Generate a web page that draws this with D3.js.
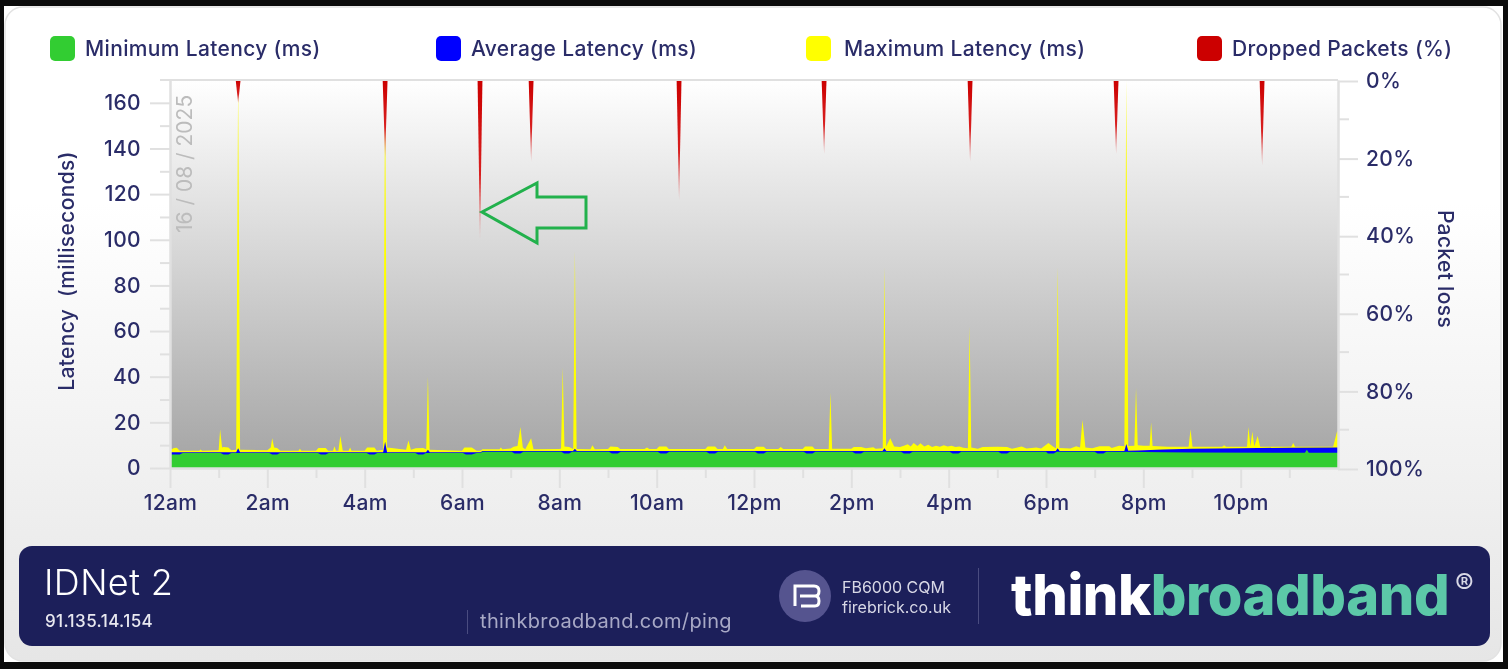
<!DOCTYPE html>
<html>
<head>
<meta charset="utf-8">
<script src="https://cdn.jsdelivr.net/npm/d3@7"></script>
<style>
  html, body { margin: 0; padding: 0; background: #0b0b0b; overflow: hidden; }
  svg { display: block; filter: blur(0.75px); font-family: Inter, "Noto Sans", sans-serif; }
</style>
</head>
<body>
<svg id="chart"></svg>
<script>
const width = 1508;
const height = 669;

// legend + axis text
const legendLabels = ['Minimum Latency (ms)', 'Average Latency (ms)', 'Maximum Latency (ms)', 'Dropped Packets (%)'];
const legendColors = ['#32cd32', '#0000ff', '#ffff00', '#cc0000'];
const hourTicks = [0, 2, 4, 6, 8, 10, 12, 14, 16, 18, 20, 22];
const hourMinorTicks = [1, 3, 5, 7, 9, 11, 13, 15, 17, 19, 21, 23];
const hourLabels = ['12am', '2am', '4am', '6am', '8am', '10am', '12pm', '2pm', '4pm', '6pm', '8pm', '10pm'];
const latencyTicks = [0, 20, 40, 60, 80, 100, 120, 140, 160];
const latencyMinorTicks = [10, 30, 50, 70, 90, 110, 130, 150];
const lossTicks = [0, 20, 40, 60, 80, 100];
const lossMinorTicks = [10, 30, 50, 70, 90];

// minimum latency
const minHours = [
  0, 0.2, 0.26, 1.04, 1.1, 1.2, 1.26, 2.04, 2.1, 2.2, 2.26, 3.04, 3.1, 3.2, 3.26,
  4.04, 4.1, 4.2, 4.26, 5.04, 5.1, 5.2, 5.26, 6.02, 6.08, 6.2, 6.3, 6.38, 6.42,
  7.02, 7.08, 7.2, 7.26, 8.04, 8.1, 8.2, 8.26, 9.02, 9.08, 9.2, 9.26, 10.02, 10.08, 10.2, 10.26,
  11.02, 11.08, 11.2, 11.26, 12.02, 12.08, 12.2, 12.26, 13.02, 13.08, 13.2, 13.26,
  14.02, 14.08, 14.2, 14.26, 15.02, 15.08, 15.2, 15.26, 16.02, 16.08, 16.2, 16.26,
  17.02, 17.08, 17.2, 17.26, 18, 18.04, 18.16, 18.22, 19, 19.06, 19.18, 19.24, 20, 20.4, 21,
  23.32, 23.36, 23.4, 24
];
const minValues = [
  5.9, 5.9, 6.6, 6.6, 5.9, 5.9, 6.6, 6.6, 5.9, 5.9, 6.6, 6.6, 5.9, 5.9, 6.6,
  6.6, 5.9, 5.9, 6.6, 6.6, 5.9, 5.9, 6.6, 6.6, 5.9, 5.9, 6.6, 6.6, 7.1,
  7.1, 6.4, 6.4, 7.1, 7.1, 6.4, 6.4, 7.1, 7.1, 6.4, 6.4, 7.1, 7.1, 6.4, 6.4, 7.1,
  7.1, 6.4, 6.4, 7.1, 7.1, 6.4, 6.4, 7.1, 7.1, 6.4, 6.4, 7.1,
  7.1, 6.4, 6.4, 7.1, 7.1, 6.4, 6.4, 7.1, 7.1, 6.4, 6.4, 7.1,
  7.1, 6.4, 6.4, 7.1, 7.1, 6.4, 6.4, 7.1, 7.1, 6.4, 6.4, 7.1, 7, 6.9, 6.8,
  6.7, 8, 6.7, 6.7
];

// average latency
const avgHours = [
  0, 1.36, 1.4, 1.44, 4.38, 4.42, 4.46, 5.26, 5.3, 5.34, 6.38, 6.42, 8.28, 8.32, 8.36,
  14.64, 14.68, 14.72, 18.2, 18.24, 18.28, 19.61, 19.65, 19.69, 19.9, 20.4, 21, 22, 23, 24
];
const avgValues = [
  6.9, 6.9, 8.6, 6.9, 6.9, 11.5, 6.9, 6.9, 8, 6.9, 6.9, 7.5, 7.5, 8.4, 7.5,
  7.5, 8.6, 7.5, 7.5, 8.6, 7.5, 7.5, 10.5, 7.6, 7.7, 8.1, 8.4, 8.7, 8.9, 9
];

// maximum latency
const maxHours = [
  0, 0.04, 0.08, 0.14, 0.2, 0.6, 0.63, 0.66, 1, 1.03, 1.07, 1.1, 1.2, 1.26, 1.36, 1.4, 1.44,
  2, 2.07, 2.1, 2.14, 2.2, 2.27, 2.64, 2.67, 2.7, 3, 3.05, 3.2, 3.25, 3.35, 3.38, 3.41, 3.46, 3.5, 3.55, 3.67, 3.7, 3.73,
  4, 4.05, 4.2, 4.25, 4.38, 4.42, 4.46, 4.85, 4.9, 4.95, 5.05, 5.2, 5.265, 5.3, 5.335,
  6, 6.05, 6.2, 6.3, 6.38, 6.42, 6.77, 6.8, 6.83, 7, 7.06, 7.14, 7.2, 7.25, 7.3, 7.42, 7.47,
  8, 8.035, 8.07, 8.105, 8.2, 8.285, 8.32, 8.355, 8.64, 8.68, 8.73, 9, 9.05, 9.2, 9.25, 9.75, 9.8, 9.85,
  10, 10.05, 10.2, 10.25, 11, 11.05, 11.2, 11.25, 11.36, 11.4, 11.45,
  12, 12.05, 12.2, 12.25, 12.5, 12.55, 12.6, 13, 13.05, 13.2, 13.25, 13.535, 13.57, 13.605,
  14, 14.05, 14.2, 14.3, 14.45, 14.5, 14.645, 14.68, 14.715, 14.8, 14.88,
  15, 15.08, 15.16, 15.22, 15.28, 15.36, 15.42, 15.5, 15.58, 15.66, 15.74, 15.82, 15.9, 15.98, 16.06, 16.14, 16.22, 16.3, 16.395, 16.43, 16.465,
  16.6, 16.7, 17, 17.2, 17.3, 17.5, 17.6, 17.8, 17.9, 18.05, 18.15, 18.205, 18.24, 18.275,
  18.5, 18.62, 18.7, 18.75, 18.81, 18.95, 19.1, 19.3, 19.35, 19.5, 19.61, 19.65, 19.69, 19.815, 19.85, 19.885, 20, 20.13, 20.16, 20.19, 20.5,
  20.93, 20.97, 21.01, 21.62, 21.66, 21.7, 22.13, 22.16, 22.2, 22.24, 22.28, 22.35, 22.4, 23.04, 23.08, 23.12, 23.9, 23.98, 24
];
const maxValues = [
  9.5, 8.2, 8.8, 8.9, 7.6, 7.6, 8.1, 7.6, 7.8, 17, 9, 9.2, 9, 7.8, 8, 170, 8,
  7.8, 9, 13, 9, 8.8, 7.6, 7.6, 8.4, 7.6, 7.6, 8.8, 8.8, 7.6, 7.6, 9.5, 7.6, 7.6, 14, 7.6, 7.6, 9, 7.6,
  7.6, 9, 9, 7.6, 8, 170, 9, 8, 12, 8, 8.6, 8.8, 8.2, 40, 8,
  7.6, 9, 9, 7.6, 7.6, 8.2, 8.2, 9, 8.2, 8.5, 9.3, 9.6, 18, 9, 8.2, 13, 8.2,
  8.3, 8.5, 44, 9.4, 9.2, 8.3, 95, 8.3, 8.2, 10, 8.2, 8.3, 9.4, 9.2, 8.3, 8.3, 9, 8.3,
  8.3, 9.4, 9.4, 8.3, 8.3, 9.4, 9.4, 8.3, 8.3, 10, 8.3,
  8.3, 9.3, 9.3, 8.3, 8.3, 9.2, 8.3, 8.3, 9.4, 9.4, 8.3, 8.3, 33, 8.4,
  8.4, 9.2, 9.2, 8.6, 9.1, 8.4, 8.6, 88, 9.4, 13, 9.4,
  9.2, 9.8, 10.4, 9.4, 11, 9.6, 10.8, 9.4, 10.2, 9.2, 9.8, 9.3, 10, 9.4, 9.8, 9.2, 9.4, 8.9, 8.6, 62, 9,
  8.4, 9.2, 9.3, 9.2, 8.4, 9.4, 8.5, 9, 8.5, 11, 9.3, 8.7, 88, 8.8,
  8.5, 9.5, 9, 21, 9, 8.6, 9.5, 9.5, 8.8, 9.8, 9.5, 170, 9.6, 9.8, 35, 10, 9.8, 9.8, 20, 9.6, 9.3,
  9.3, 17, 9.3, 9.3, 10, 9.3, 9.3, 18, 9.5, 16, 9.5, 14, 9.3, 9.3, 11, 9.3, 9.3, 16, 16
];

// packet loss spikes hang down from the top of the chart
const dropHours = [1.4, 4.42, 6.37, 7.42, 10.46, 13.44, 16.44, 19.44, 22.44];
const dropValues = [6, 20, 41, 21, 31, 19, 21, 19, 22];
const dropSpread = 0.05;

const plot = { left: 170, right: 1338, top: 80, bottom: 468 };

const x = d3.scaleLinear().domain([0, 24]).range([plot.left, plot.right]);
const y = d3.scaleLinear().domain([0, 170]).range([plot.bottom, plot.top]);
const yLoss = d3.scaleLinear().domain([0, 100]).range([plot.top, plot.bottom]);

const navy = '#2a2c68';
const axisGrey = '#e0e0e0';
const textSpacing = '0.35px';

const svg = d3.select('#chart').attr('width', width).attr('height', height);
const defs = svg.append('defs');

const cardGrad = defs.append('linearGradient').attr('id', 'cardGrad').attr('x1', 0).attr('x2', 0).attr('y1', 0).attr('y2', 1);
cardGrad.append('stop').attr('offset', '0%').attr('stop-color', '#ffffff');
cardGrad.append('stop').attr('offset', '30%').attr('stop-color', '#ffffff');
cardGrad.append('stop').attr('offset', '100%').attr('stop-color', '#e6e6e6');

const plotGrad = defs.append('linearGradient').attr('id', 'plotGrad').attr('x1', 0).attr('x2', 0).attr('y1', 0).attr('y2', 1);
plotGrad.append('stop').attr('offset', '0%').attr('stop-color', '#ffffff');
plotGrad.append('stop').attr('offset', '100%').attr('stop-color', '#a4a4a4');

const dropGrad = defs.append('linearGradient').attr('id', 'dropGrad').attr('x1', 0).attr('x2', 0).attr('y1', 0).attr('y2', 1);
dropGrad.append('stop').attr('offset', '0%').attr('stop-color', '#cc0000');
dropGrad.append('stop').attr('offset', '60%').attr('stop-color', '#d82020');
dropGrad.append('stop').attr('offset', '100%').attr('stop-color', '#e6a0a0');

defs.append('clipPath').attr('id', 'plotClip').append('rect')
  .attr('x', plot.left).attr('y', plot.top)
  .attr('width', plot.right - plot.left).attr('height', plot.bottom - plot.top);

// screenshot backing, then the rounded card on it
svg.append('rect').attr('x', 4).attr('y', 6).attr('width', 1499).attr('height', 656).attr('fill', '#ffffff');
svg.append('rect').attr('x', 5).attr('y', 7).attr('width', 1496).attr('height', 654).attr('rx', 18)
  .attr('fill', 'url(#cardGrad)').attr('stroke', '#e2e2e2').attr('stroke-width', 1.5);

// legend
const legendSwatchX = [50, 436, 806, 1197];
const legendTextX = [85, 471, 844, 1232];
const legend = svg.append('g').selectAll('g').data(legendLabels).enter().append('g');
legend.append('rect')
  .attr('x', (d, i) => legendSwatchX[i]).attr('y', 36).attr('width', 25).attr('height', 25).attr('rx', 5)
  .attr('fill', (d, i) => legendColors[i]);
legend.append('text')
  .attr('x', (d, i) => legendTextX[i]).attr('y', 56)
  .attr('font-size', 21).attr('font-weight', 500).attr('letter-spacing', textSpacing).attr('fill', navy)
  .text((d) => d);

// plot background
svg.append('rect')
  .attr('x', plot.left).attr('y', plot.top)
  .attr('width', plot.right - plot.left).attr('height', plot.bottom - plot.top)
  .attr('fill', 'url(#plotGrad)');

function areaFrom(hours, values) {
  const area = d3.area()
    .x((d, i) => x(hours[i]))
    .y0(y(0))
    .y1((d) => y(d));
  return area(values);
}

const marks = svg.append('g').attr('clip-path', 'url(#plotClip)');
marks.append('path').attr('d', areaFrom(maxHours, maxValues)).attr('fill', legendColors[2]);
marks.append('path').attr('d', areaFrom(avgHours, avgValues)).attr('fill', legendColors[1]);
marks.append('path').attr('d', areaFrom(minHours, minValues)).attr('fill', legendColors[0]);

const dropArea = d3.area()
  .x((d) => x(d[0]))
  .y0(yLoss(0))
  .y1((d) => yLoss(d[1]));
marks.selectAll('path.drop').data(dropHours).enter().append('path')
  .attr('class', 'drop')
  .attr('fill', 'url(#dropGrad)')
  .attr('d', (d, i) => dropArea([[d - dropSpread, 0], [d, dropValues[i]], [d + dropSpread, 0]]));

// date stamp inside the plot
svg.append('text')
  .attr('transform', 'translate(192,233) rotate(-90)')
  .attr('font-size', 21).attr('fill', '#bcbcbc')
  .text('16 / 08 / 2025');

function styleAxis(g) {
  g.select('.domain').attr('stroke', axisGrey).attr('stroke-width', 2);
  g.selectAll('.tick line').attr('stroke', axisGrey).attr('stroke-width', 2);
  g.selectAll('.tick text').attr('fill', navy).attr('font-size', 21).attr('font-weight', 500)
    .attr('letter-spacing', textSpacing).attr('font-family', 'Inter, "Noto Sans", sans-serif');
}

// axes, major + minor ticks
svg.append('g').attr('transform', `translate(${plot.left},0)`)
  .call(d3.axisLeft(y).tickValues(latencyTicks).tickSize(20).tickPadding(9).tickSizeOuter(0)).call(styleAxis);
svg.append('g').attr('transform', `translate(${plot.left},0)`)
  .call(d3.axisLeft(y).tickValues(latencyMinorTicks).tickSize(10).tickFormat('').tickSizeOuter(0)).call(styleAxis);

svg.append('g').attr('transform', `translate(${plot.right},1)`)
  .call(d3.axisRight(yLoss).tickValues(lossTicks).tickSize(20).tickPadding(8).tickSizeOuter(0).tickFormat((d) => d + '%')).call(styleAxis);
svg.append('g').attr('transform', `translate(${plot.right},0)`)
  .call(d3.axisRight(yLoss).tickValues(lossMinorTicks).tickSize(11).tickFormat('').tickSizeOuter(0)).call(styleAxis);

svg.append('g').attr('transform', `translate(0,${plot.bottom})`)
  .call(d3.axisBottom(x).tickValues(hourTicks).tickSize(20).tickPadding(7).tickSizeOuter(0)
    .tickFormat((d, i) => hourLabels[i])).call(styleAxis);
svg.append('g').attr('transform', `translate(0,${plot.bottom})`)
  .call(d3.axisBottom(x).tickValues(hourMinorTicks).tickSize(10).tickFormat('').tickSizeOuter(0)).call(styleAxis);

// top rule
svg.append('line').attr('x1', 160).attr('x2', plot.right).attr('y1', plot.top).attr('y2', plot.top)
  .attr('stroke', axisGrey).attr('stroke-width', 2);

// axis titles
svg.append('text')
  .attr('transform', 'translate(74,271) rotate(-90)')
  .attr('text-anchor', 'middle').attr('font-size', 21).attr('font-weight', 500).attr('letter-spacing', textSpacing).attr('fill', navy)
  .attr('xml:space', 'preserve')
  .text('Latency  (milliseconds)');
svg.append('text')
  .attr('transform', 'translate(1438,269) rotate(90)')
  .attr('text-anchor', 'middle').attr('font-size', 21).attr('font-weight', 500).attr('letter-spacing', textSpacing).attr('fill', navy)
  .text('Packet loss');

// annotation arrow
svg.append('path')
  .attr('d', 'M482,212 L537,183 L537,197 L586,197 L586,228 L537,228 L537,243 Z')
  .attr('fill', 'none').attr('stroke', '#22b14c').attr('stroke-width', 3);

// footer banner
const footer = svg.append('g');
footer.append('rect').attr('x', 19).attr('y', 546).attr('width', 1471).attr('height', 100).attr('rx', 13).attr('fill', '#1c1f5a');
footer.append('text').attr('x', 44).attr('y', 595).attr('font-size', 36).attr('font-weight', 300).attr('letter-spacing', '0.4px').attr('fill', '#fff').text('IDNet 2');
footer.append('text').attr('x', 45).attr('y', 627).attr('font-size', 17).attr('font-weight', 500).attr('letter-spacing', '0.4px').attr('fill', '#e8e8f0').text('91.135.14.154');
footer.append('line').attr('x1', 467.5).attr('x2', 467.5).attr('y1', 610).attr('y2', 634).attr('stroke', '#4a4c80');
footer.append('text').attr('x', 480).attr('y', 628).attr('font-size', 20).attr('letter-spacing', '0.35px').attr('fill', '#a8a9c6').text('thinkbroadband.com/ping');

footer.append('circle').attr('cx', 805).attr('cy', 596).attr('r', 26).attr('fill', '#55548f');
footer.append('path')
  .attr('d', 'M814,586 H795 V606 M800,596 H815 Q819,596 819,591 Q819,586 814,586 M801,606 H815 Q819,606 819,601 Q819,596 815,596')
  .attr('fill', 'none').attr('stroke', '#fff').attr('stroke-width', 3);
footer.append('text').attr('x', 842).attr('y', 593).attr('font-size', 16).attr('fill', '#d8d8e6').text('FB6000 CQM');
footer.append('text').attr('x', 842).attr('y', 613).attr('font-size', 16).attr('fill', '#d8d8e6').text('firebrick.co.uk');
footer.append('line').attr('x1', 978.5).attr('x2', 978.5).attr('y1', 568).attr('y2', 624).attr('stroke', '#4a4c80');

const brand = footer.append('text').attr('x', 1011).attr('y', 615).attr('font-size', 56).attr('font-weight', 800).attr('letter-spacing', '-0.4px');
brand.append('tspan').attr('fill', '#ffffff').text('think');
brand.append('tspan').attr('fill', '#5cc8a8').text('broadband');
footer.append('text').attr('x', 1455).attr('y', 594).attr('font-size', 28).attr('fill', '#d8d8e6').text('®');
</script>
</body>
</html>
